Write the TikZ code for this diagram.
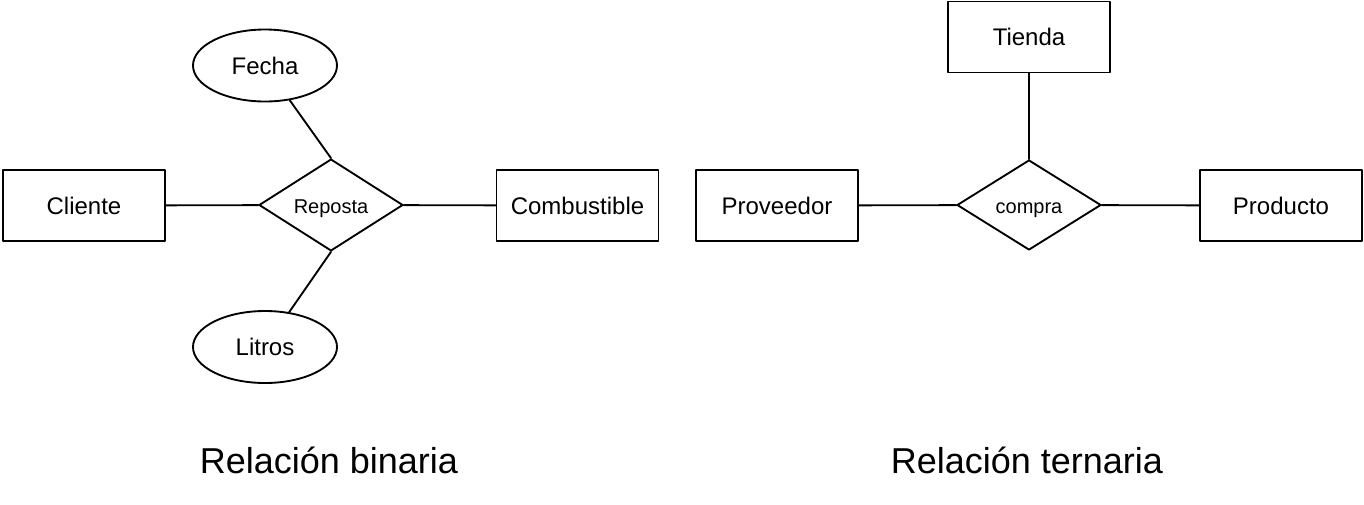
\documentclass[tikz,border=0pt]{standalone}
\usepackage{fontspec}
\setmainfont{Liberation Sans}
\usetikzlibrary{shapes.geometric}
\definecolor{pagebg}{HTML}{FFFFFF}
\definecolor{textfg}{HTML}{000000}
\definecolor{edge}{HTML}{000000}

\begin{document}
\begin{tikzpicture}[
  x=0.75pt,
  y=-0.75pt,
  line cap=round,
  line join=round,
  entity/.style={draw=edge, fill=pagebg, line width=1.4pt, text=textfg,
    minimum width=121.5pt, minimum height=53.25pt, inner sep=0pt,
    text height=13pt, text depth=0pt,
    font=\fontsize{18}{21}\selectfont},
  relation/.style={diamond, draw=edge, fill=pagebg, line width=1.4pt, text=textfg,
    minimum width=108pt, minimum height=67.5pt, inner sep=0pt,
    text height=13pt, text depth=0pt,
    font=\fontsize{15}{18}\selectfont},
  attribute/.style={ellipse, draw=edge, fill=pagebg, line width=1.4pt, text=textfg,
    minimum width=108pt, minimum height=54pt, inner sep=0pt,
    text height=13pt, text depth=0pt,
    font=\fontsize{18}{21}\selectfont},
  caption/.style={anchor=base, text=textfg, font=\fontsize{27}{32}\selectfont},
  link/.style={draw=edge, line width=1.4pt}
]
  \fill[pagebg] (0,0) rectangle (1364,504);

  % binaria
  \node[entity]    (cliente)     at (84,205.5)  {Cliente};
  \node[relation]  (reposta)     at (331,205)   {Reposta};
  \node[entity]    (combustible) at (577.5,205.5) {Combustible};
  \node[attribute] (fecha)       at (265,65.5)  {Fecha};
  \node[attribute] (litros)      at (265,347)   {Litros};

  \draw[link] (cliente) -- (reposta);
  \draw[link] (reposta) -- (combustible);
  \draw[link] (fecha) -- (reposta.north);
  \draw[link] (litros) -- (reposta.south);

  % ternaria
  \node[entity]    (proveedor)   at (777,205.5) {Proveedor};
  \node[relation]  (compra)      at (1029,205)  {compra};
  \node[entity]    (producto)    at (1281,205.5) {Producto};
  \node[entity]    (tienda)      at (1029,37)   {Tienda};

  \draw[link] (proveedor) -- (compra);
  \draw[link] (compra) -- (producto);
  \draw[link] (tienda) -- (compra.north);

  \node[caption] (binaria) at (329,473)  {Relación binaria};
  \node[caption] (ternaria) at (1027,473) {Relación ternaria};
\end{tikzpicture}
\end{document}
